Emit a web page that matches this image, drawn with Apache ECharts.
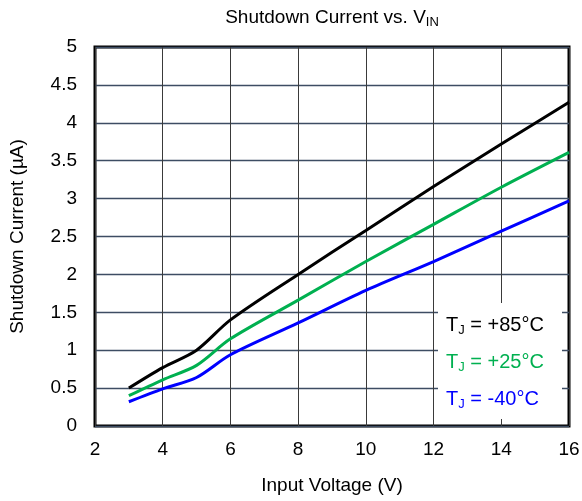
<!DOCTYPE html>
<html><head><meta charset="utf-8">
<script src="https://cdn.jsdelivr.net/npm/echarts@6/dist/echarts.min.js"></script>
<style>html,body{margin:0;padding:0;background:#fff}#c{width:582px;height:501px}</style>
</head><body><div id="c"></div>
<script>
const voltages = [3, 4, 5, 6, 8, 10, 12, 14, 16];
const current85 = [0.50, 0.77, 1.00, 1.40, 2.00, 2.58, 3.16, 3.72, 4.27];
const current25 = [0.40, 0.61, 0.80, 1.15, 1.66, 2.17, 2.66, 3.15, 3.61];
const currentM40 = [0.32, 0.49, 0.64, 0.94, 1.36, 1.79, 2.17, 2.57, 2.97];
const seriesNames = ['+85°C', '+25°C', '-40°C'];
const seriesColors = ['#000000', '#00b050', '#0000ff'];
const seriesData = [current85, current25, currentM40];

const FONT = '"Liberation Sans", Arial, sans-serif';
const chart = echarts.init(document.getElementById('c'), null, {renderer: 'canvas'});

const pairs = arr => voltages.map((v, i) => [v, arr[i]]);

chart.setOption({
  backgroundColor: '#fff',
  animation: false,
  textStyle: {fontFamily: FONT},
  title: {
    text: '{a|Shutdown Current vs. V}{s|IN}',
    left: 327, top: 2, textAlign: 'center',
    textStyle: {
      fontWeight: 'normal',
      rich: {
        a: {fontSize: 19, color: '#000', fontFamily: FONT, fontWeight: 'normal'},
        s: {fontSize: 13, color: '#000', fontFamily: FONT, fontWeight: 'normal', padding: [9, 0, 0, 0]}
      }
    }
  },
  grid: {left: 95, top: 47, right: 13, bottom: 75, show: true, borderColor: '#000', borderWidth: 3, backgroundColor: 'transparent', containLabel: false, outerBoundsMode: 'none'},
  xAxis: {
    type: 'value', min: 2, max: 16, interval: 2,
    name: 'Input Voltage (V)', nameLocation: 'middle', nameGap: 50,
    nameTextStyle: {fontSize: 19, color: '#000', fontFamily: FONT},
    axisLine: {show: false},
    axisTick: {show: false},
    axisLabel: {fontSize: 19, color: '#000', margin: 14, fontFamily: FONT},
    splitLine: {show: true, lineStyle: {color: '#3a3a3a', width: 1}}
  },
  yAxis: {
    type: 'value', min: 0, max: 5, interval: 0.5,
    name: 'Shutdown Current (µA)', nameLocation: 'middle', nameGap: 68,
    nameTextStyle: {fontSize: 19, color: '#000', fontFamily: FONT},
    axisLine: {show: false},
    axisTick: {show: false},
    axisLabel: {fontSize: 19, color: '#000', margin: 18, fontFamily: FONT},
    splitLine: {show: true, lineStyle: {color: '#3d4d63', width: 1.3}}
  },
  series: seriesData.map((d, i) => ({
    name: seriesNames[i], type: 'line', data: pairs(d), smooth: 0.3,
    symbol: 'none', lineStyle: {color: seriesColors[i], width: 3}, z: 5 - i
  })),
  graphic: [
    {type: 'rect', shape: {x: 438, y: 303, width: 124, height: 116}, style: {fill: '#fff'}, z: 10},
  ].concat(seriesNames.map((n, i) => ({
    type: 'text', left: 446, top: 315 + i * 37, z: 11,
    style: {
      text: '{t|T}{s|J}{t| = ' + n + '}',
      rich: {
        t: {fontSize: 20, fill: seriesColors[i], fontFamily: FONT},
        s: {fontSize: 13, fill: seriesColors[i], fontFamily: FONT, padding: [10, 0, 0, 0]}
      }
    }
  })))
});
</script></body></html>
